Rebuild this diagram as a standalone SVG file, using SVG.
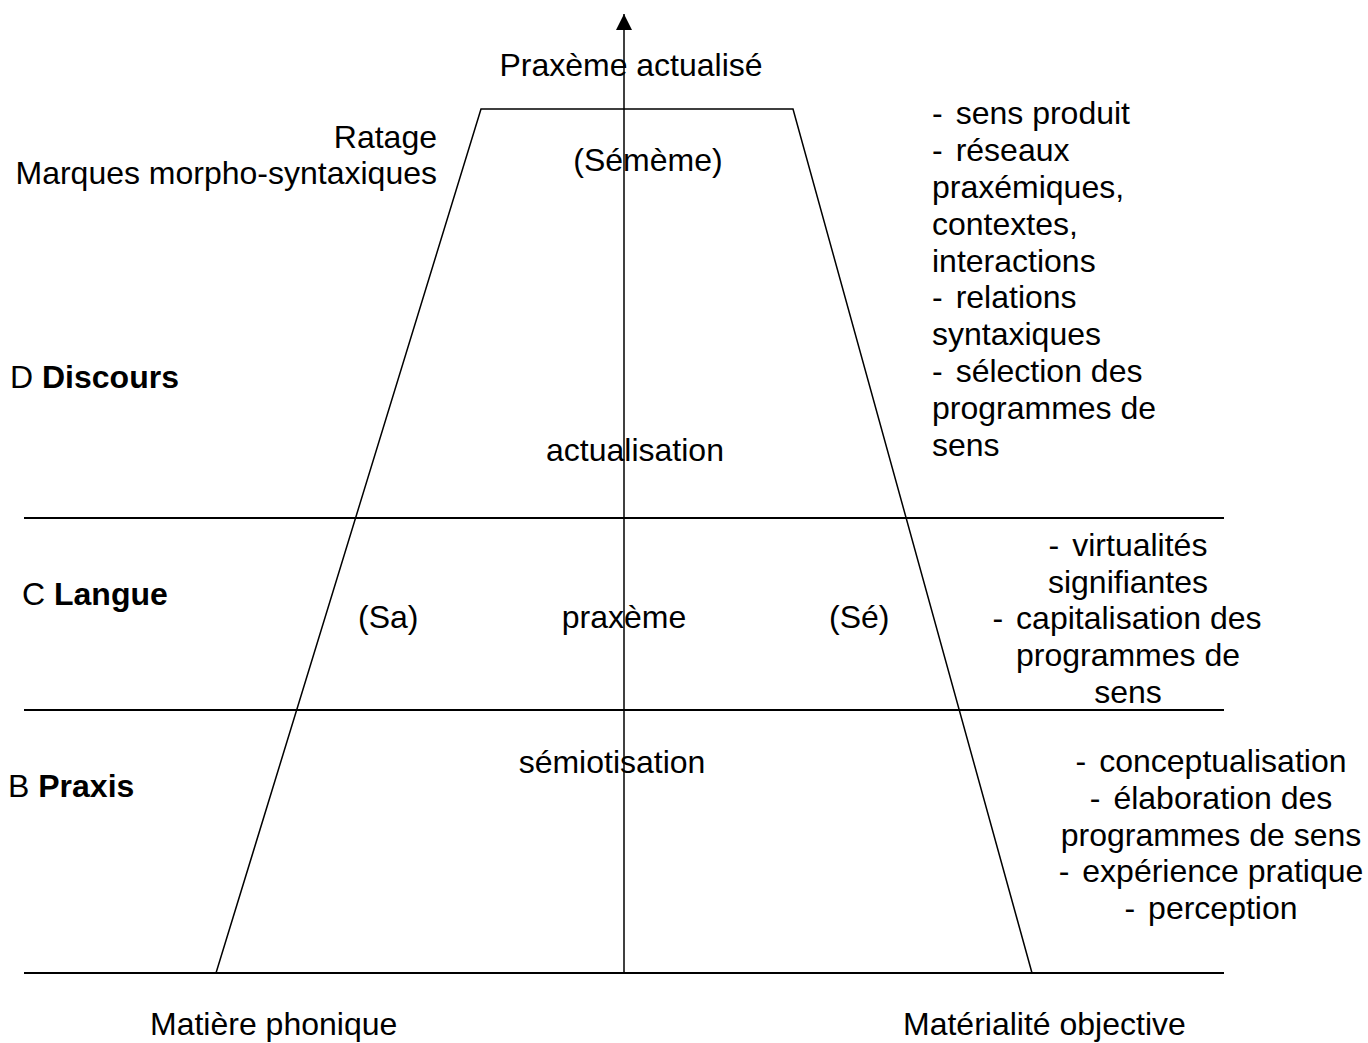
<svg xmlns="http://www.w3.org/2000/svg" width="1368" height="1043" viewBox="0 0 1368 1043">
<style>
text{font-family:"Liberation Sans",Arial,sans-serif;font-size:32px;fill:#000}
.m{text-anchor:middle}
.e{text-anchor:end}
.h{stroke:#000;stroke-width:2;fill:none}
.t{stroke:#000;stroke-width:1.5;fill:none}
</style>
<defs>
<marker id="arr" markerUnits="userSpaceOnUse" markerWidth="17" markerHeight="17" refX="16" refY="8" orient="auto" viewBox="0 0 17 17">
<path d="M0,0 L16,8 L0,16 Z" fill="#000"/>
</marker>
</defs>
<rect width="1368" height="1043" fill="#fff"/>
<g id="connectors">
<line class="h" x1="24" y1="518" x2="1224" y2="518"/>
<line class="h" x1="24" y1="710" x2="1224" y2="710"/>
<line class="h" x1="24" y1="973" x2="1224" y2="973"/>
<polyline id="trapeze" class="t" points="216,973 481,109 793,109 1032,973"/>
<line class="t" x1="624" y1="973" x2="624" y2="14" marker-end="url(#arr)"/>
</g>
<g id="top">
<text class="m" x="631" y="76">Praxème actualisé</text>
<text class="e" x="437" y="148">Ratage</text>
<text class="e" x="437" y="184">Marques morpho-syntaxiques</text>
<text class="m" x="648" y="171">(Sémème)</text>
</g>
<g id="discours">
<text x="10" y="388">D <tspan font-weight="bold">Discours</tspan></text>
<text class="m" x="635" y="461">actualisation</text>
<text x="932" y="124">-<tspan dx="13">sens produit</tspan></text>
<text x="932" y="161">-<tspan dx="13">réseaux</tspan></text>
<text x="932" y="198">praxémiques,</text>
<text x="932" y="235">contextes,</text>
<text x="932" y="272">interactions</text>
<text x="932" y="308">-<tspan dx="13">relations</tspan></text>
<text x="932" y="345">syntaxiques</text>
<text x="932" y="382">-<tspan dx="13">sélection des</tspan></text>
<text x="932" y="419">programmes de</text>
<text x="932" y="456">sens</text>
</g>
<g id="langue">
<text x="22" y="605">C <tspan font-weight="bold">Langue</tspan></text>
<text x="358" y="628">(Sa)</text>
<text class="m" x="624" y="628">praxème</text>
<text x="829" y="628">(Sé)</text>
<text class="m" x="1128" y="556">-<tspan dx="13">virtualités</tspan></text>
<text class="m" x="1128" y="593">signifiantes</text>
<text class="m" x="1127" y="629">-<tspan dx="13">capitalisation des</tspan></text>
<text class="m" x="1128" y="666">programmes de</text>
<text class="m" x="1128" y="703">sens</text>
</g>
<g id="praxis">
<text x="8" y="797">B <tspan font-weight="bold">Praxis</tspan></text>
<text class="m" x="612" y="773">sémiotisation</text>
<text class="m" x="1211" y="772">-<tspan dx="13">conceptualisation</tspan></text>
<text class="m" x="1211" y="809">-<tspan dx="13">élaboration des</tspan></text>
<text class="m" x="1211" y="846">programmes de sens</text>
<text class="m" x="1211" y="882">-<tspan dx="13">expérience pratique</tspan></text>
<text class="m" x="1211" y="919">-<tspan dx="13">perception</tspan></text>
</g>
<g id="bottom">
<text x="150" y="1035">Matière phonique</text>
<text x="903" y="1035">Matérialité objective</text>
</g>
</svg>
